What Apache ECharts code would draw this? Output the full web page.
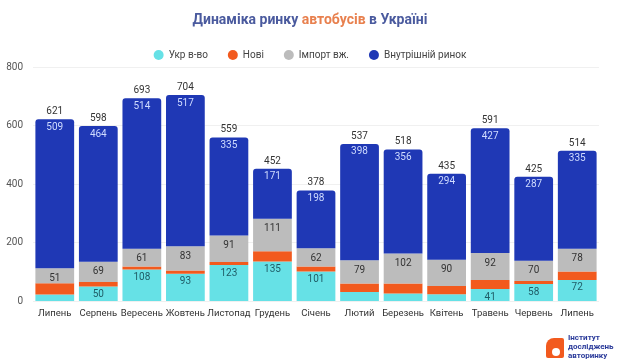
<!DOCTYPE html>
<html><head><meta charset="utf-8">
<script src="https://cdn.jsdelivr.net/npm/echarts@6/dist/echarts.min.js"></script>
<style>html,body{margin:0;padding:0;background:#fff}#c{width:620px;height:364px}</style>
</head><body><div id="c"></div>
<script>
const categories = ['Липень','Серпень','Вересень','Жовтень','Листопад','Грудень','Січень','Лютий','Березень','Квітень','Травень','Червень','Липень'];
const ukr = [22,50,108,93,123,135,101,31,26,23,41,58,72];
const nowi = [39,15,10,11,10,35,17,29,34,28,31,10,29];
const importUsed = [51,69,61,83,91,111,62,79,102,90,92,70,78];
const inner = [509,464,514,517,335,171,198,398,356,294,427,287,335];
const totals = [621,598,693,704,559,452,378,537,518,435,591,425,514];
const ukrLabels = [null,50,108,93,123,135,101,null,null,null,41,58,72];
const yTicks = [0,200,400,600,800];

const chart = echarts.init(document.getElementById('c'));
const font = 'Roboto';
chart.setOption({
  animation:false,
  textStyle:{fontFamily:font},
  title:{
    text:'{a|Динаміка ринку }{b|автобусів}{a| в Україні}',
    left:'center', top:8,
    textStyle:{rich:{
      a:{fontSize:14,fontWeight:'bold',color:'#4a5a9e',fontFamily:font},
      b:{fontSize:14,fontWeight:'bold',color:'#e8804e',fontFamily:font}
    }}
  },
  legend:{
    data:['Укр в-во','Нові','Імпорт вж.','Внутрішній ринок'],
    top:45, left:'center', icon:'circle', itemWidth:10, itemHeight:10, itemGap:20,
    textStyle:{fontSize:10,color:'#444',fontFamily:font}
  },
  grid:{left:33,right:21,top:67,bottom:63},
  xAxis:{type:'category',data:categories,
    axisLine:{show:false},axisTick:{show:false},
    axisLabel:{fontSize:9.5,color:'#333',margin:8,interval:0}},
  yAxis:{type:'value',min:yTicks[0],max:yTicks[yTicks.length-1],interval:200,
    axisLabel:{fontSize:10,color:'#555',margin:10},
    splitLine:{lineStyle:{color:'#f0f0f0'}}},
  series:[
    {name:'Укр в-во',type:'bar',stack:'s',barCategoryGap:'11%',data:ukr.map((v,i)=>({value:v,label:{show:ukrLabels[i]!==null}})),
      itemStyle:{color:'#66e1e6'},
      label:{show:true,position:'insideTop',distance:3,fontSize:10,color:'#1f5c66'}},
    {name:'Нові',type:'bar',stack:'s',data:nowi,itemStyle:{color:'#f25a1e'}},
    {name:'Імпорт вж.',type:'bar',stack:'s',data:importUsed,itemStyle:{color:'#bcbcbc'},
      label:{show:true,position:'insideTop',distance:5,fontSize:10,color:'#333'}},
    {name:'Внутрішній ринок',type:'bar',stack:'s',data:inner,
      itemStyle:{color:'#1f38b5',borderRadius:[3,3,0,0]},
      label:{show:true,position:'insideTop',distance:3,fontSize:10,color:'#d0dcff'}},
    {name:'total',type:'line',data:totals,symbol:'circle',symbolSize:1,showSymbol:true,
      itemStyle:{color:'rgba(0,0,0,0)'},lineStyle:{opacity:0},
      label:{show:true,position:'top',distance:2,fontSize:10,color:'#333'},silent:true}
  ],
  graphic:[
    {type:'rect',left:546,top:338,shape:{width:18,height:20,r:[8,2,2,2]},style:{fill:'#f25a1e'}},
    {type:'circle',left:552,top:348,shape:{r:4},style:{fill:'#fff'}},
    {type:'text',left:568,top:333,style:{text:'Інститут\nдосліджень\nавторинку',fill:'#2a3a9a',font:'bold 8px Roboto',lineHeight:9}}
  ]
});
</script></body></html>
